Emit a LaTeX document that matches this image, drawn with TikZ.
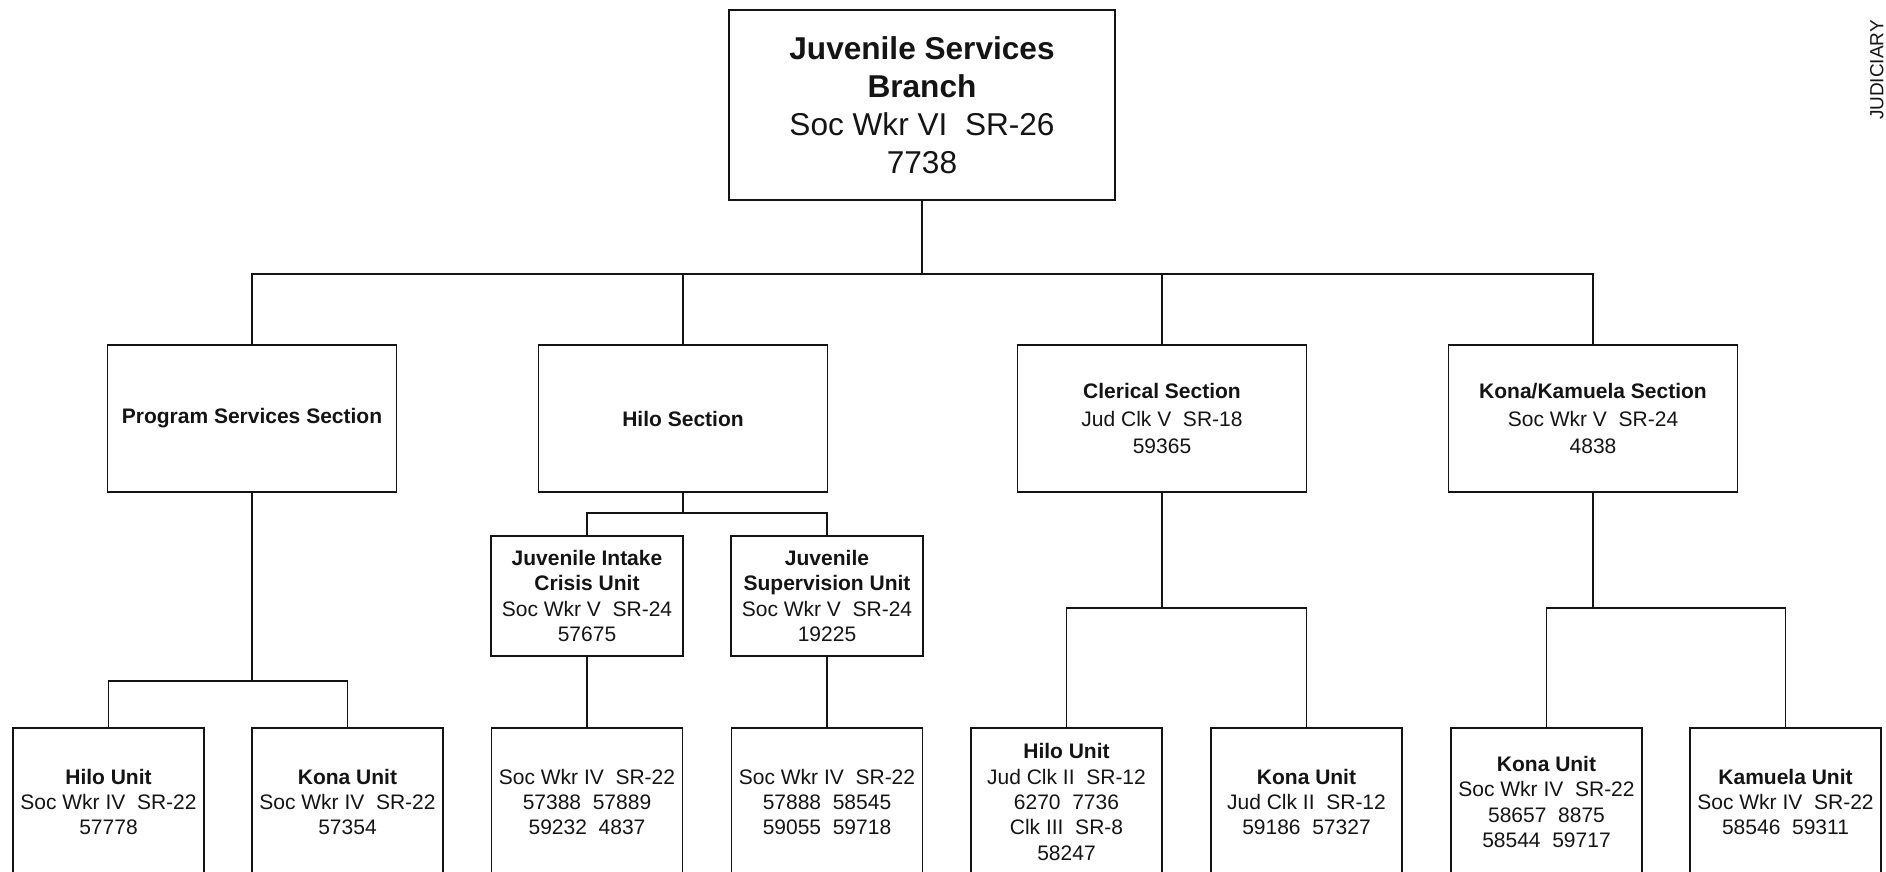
\documentclass[tikz,border=0pt]{standalone}
\usepackage{fontspec}
\setmainfont{Liberation Sans}
\usepackage{tikz}
\usetikzlibrary{positioning}
\definecolor{ink}{RGB}{20,20,20}
\tikzset{
  orgbox/.style={draw=ink,line width=0.9pt,align=center,inner sep=0pt,
    text=ink,font=\fontsize{10.5}{12.7}\selectfont},
  secbox/.style={orgbox,minimum width=144.5pt,minimum height=73.5pt,
    font=\fontsize{10.5}{13.6}\selectfont},
  subbox/.style={orgbox,minimum width=96pt,minimum height=60pt},
  unitbox/.style={orgbox,minimum width=95.5pt,minimum height=74pt},
  link/.style={draw=ink,line width=0.6pt}
}

\begin{document}
\begin{tikzpicture}[x=0.5pt,y=-0.5pt]
  \clip (0,0) rectangle (1886,872);
  \fill[white] (0,0) rectangle (1886,872);

  % branch head
  \node[orgbox,minimum width=193pt,minimum height=95pt,
    font=\fontsize{15.8}{19}\selectfont] (branch) at (922,105)
    {\textbf{Juvenile Services}\\\textbf{Branch}\\Soc Wkr VI\ \ SR-26\\7738};

  % sections
  \node[secbox] (progsec) at (252,418.5) {\textbf{Program Services Section}};
  \node[secbox] (hilosec) at (683,418.5) {\textbf{Hilo Section}};
  \node[secbox] (clersec) at (1162,418.5)
    {\textbf{Clerical Section}\\Jud Clk V\ \ SR-18\\59365};
  \node[secbox] (konasec) at (1593,418.5)
    {\textbf{Kona/Kamuela Section}\\Soc Wkr V\ \ SR-24\\4838};

  % hilo sub-units
  \node[subbox] (intake) at (587,596)
    {\textbf{Juvenile Intake}\\\textbf{Crisis Unit}\\Soc Wkr V\ \ SR-24\\57675};
  \node[subbox] (superv) at (827,596)
    {\textbf{Juvenile}\\\textbf{Supervision Unit}\\Soc Wkr V\ \ SR-24\\19225};

  % units, bottom row
  \node[unitbox] (hilounit) at (108.5,802)
    {\textbf{Hilo Unit}\\Soc Wkr IV\ \ SR-22\\57778};
  \node[unitbox] (konaunit) at (347.5,802)
    {\textbf{Kona Unit}\\Soc Wkr IV\ \ SR-22\\57354};
  \node[unitbox] (intakewkr) at (587,802)
    {Soc Wkr IV\ \ SR-22\\57388\ \ 57889\\59232\ \ 4837};
  \node[unitbox] (supervwkr) at (827,802)
    {Soc Wkr IV\ \ SR-22\\57888\ \ 58545\\59055\ \ 59718};
  \node[unitbox] (hiloclk) at (1066.5,802)
    {\textbf{Hilo Unit}\\Jud Clk II\ \ SR-12\\6270\ \ 7736\\Clk III\ \ SR-8\\58247};
  \node[unitbox] (konaclk) at (1306.5,802)
    {\textbf{Kona Unit}\\Jud Clk II\ \ SR-12\\59186\ \ 57327};
  \node[unitbox] (konawkr) at (1546.5,802)
    {\textbf{Kona Unit}\\Soc Wkr IV\ \ SR-22\\58657\ \ 8875\\58544\ \ 59717};
  \node[unitbox] (kamuela) at (1785.5,802)
    {\textbf{Kamuela Unit}\\Soc Wkr IV\ \ SR-22\\58546\ \ 59311};

  % side label at the right edge
  \node[rotate=90,anchor=south,inner sep=0pt,text=ink,
    font=\fontsize{9.5}{11}\selectfont] (judlabel) at (1884,70) {JUDICIARY};

  % connectors
  \foreach \sec in {progsec,hilosec,clersec,konasec}
    \draw[link] (branch.south) -- ++(0,73) -| (\sec.north);
  \foreach \unit in {hilounit,konaunit}
    \draw[link] (progsec.south) -- ++(0,188) -| (\unit.north);
  \foreach \unit in {intake,superv}
    \draw[link] (hilosec.south) -- ++(0,20) -| (\unit.north);
  \draw[link] (intake.south) -- (intakewkr.north);
  \draw[link] (superv.south) -- (supervwkr.north);
  \foreach \unit in {hiloclk,konaclk}
    \draw[link] (clersec.south) -- ++(0,115) -| (\unit.north);
  \foreach \unit in {konawkr,kamuela}
    \draw[link] (konasec.south) -- ++(0,115) -| (\unit.north);
\end{tikzpicture}
\end{document}
